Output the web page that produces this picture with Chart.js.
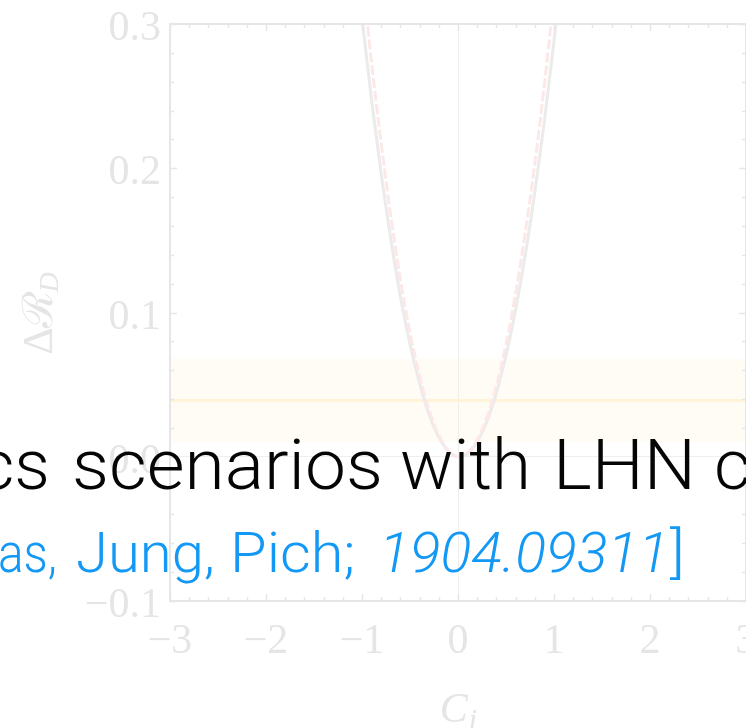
<!DOCTYPE html>
<html>
<head>
<meta charset="utf-8">
<script src="https://cdn.jsdelivr.net/npm/chart.js@4/dist/chart.umd.min.js"></script>
<style>
  html, body { margin: 0; padding: 0; background: #ffffff; }
  #wrap { position: relative; width: 746px; height: 728px; overflow: hidden; }
  #c { position: absolute; left: 0; top: 0; }
  #overlay { position: absolute; left: 0; top: 0; }
  .head { font-family: 'Roboto', 'Liberation Sans', sans-serif; font-weight: 300; fill: #050505; font-size: 71px; }
  .cite { font-family: 'Roboto', 'Liberation Sans', sans-serif; font-weight: 300; fill: #1398f5; font-size: 56px; }
  .cite.it { font-style: italic; }
</style>
</head>
<body>
<div id="wrap">
  <canvas id="c" width="746" height="728"></canvas>
  <svg id="overlay" width="746" height="728" xmlns="http://www.w3.org/2000/svg">
    <text class="head" x="-22" y="489" textLength="72" lengthAdjust="spacingAndGlyphs">cs</text>
    <text class="head" x="72" y="489" textLength="311" lengthAdjust="spacingAndGlyphs">scenarios</text>
    <text class="head" x="400" y="489" textLength="131" lengthAdjust="spacingAndGlyphs">with</text>
    <text class="head" x="553" y="489" textLength="143" lengthAdjust="spacingAndGlyphs">LHN</text>
    <text class="head" x="714" y="489">c</text>
    <text class="cite" x="-2" y="572" textLength="59" lengthAdjust="spacingAndGlyphs">as,</text>
    <text class="cite" x="76" y="572" textLength="139" lengthAdjust="spacingAndGlyphs">Jung,</text>
    <text class="cite" x="230" y="572" textLength="125" lengthAdjust="spacingAndGlyphs">Pich;</text>
    <text class="cite it" x="379" y="572" textLength="290" lengthAdjust="spacingAndGlyphs">1904.09311</text>
    <text class="cite" x="670" y="572" textLength="15" lengthAdjust="spacingAndGlyphs">]</text>
  </svg>
</div>
<script>
// Wilson coefficient C_i on the horizontal axis, shift of R_D on the vertical axis
const xTickValues = [-3, -2, -1, 0, 1, 2, 3];
const xTickLabels = ['\u22123', '\u22122', '\u22121', '0', '1', '2', '3'];
const yTickValues = [-0.1, 0, 0.1, 0.2, 0.3];
const yTickLabels = ['\u22120.1', '0.0', '0.1', '0.2', '0.3'];

// curve of Delta R_D against C_i (two overlaid predictions)
const curveC = [-1.1, -1.0, -0.9, -0.8, -0.7, -0.6, -0.5, -0.4, -0.3, -0.2, -0.1, 0.0,
                0.1, 0.2, 0.3, 0.4, 0.5, 0.6, 0.7, 0.8, 0.9, 1.0, 1.1];
const curveGrey = [0.367, 0.304, 0.247, 0.196, 0.151, 0.111, 0.078, 0.051, 0.029, 0.0135, 0.0038, 0.0001,
                   0.0022, 0.0103, 0.0243, 0.0443, 0.0701, 0.1019, 0.1396, 0.1832, 0.2327, 0.2882, 0.350];
const curvePink = [0.406, 0.337, 0.273, 0.217, 0.167, 0.123, 0.086, 0.056, 0.032, 0.0149, 0.0042, 0.0001,
                   0.0025, 0.0115, 0.0270, 0.0491, 0.0778, 0.113, 0.155, 0.203, 0.258, 0.320, 0.388];

// measured Delta R_D: central value and 1 sigma band
const bandC = [-3, 3];
const bandCentre = [0.039, 0.039];
const bandUpper = [0.068, 0.068];
const bandLower = [0.010, 0.010];

const pts = (xs, ys) => xs.map((v, i) => ({ x: v, y: ys[i] }));

const labelColour = '#e5e5e5';
const frameColour = '#e6e6e6';
const serif = "'Liberation Serif', 'DejaVu Serif', serif";

// box frame with inward major and minor ticks on all four sides
const frameTicks = {
  id: 'frameTicks',
  afterDatasetsDraw(chart) {
    const { ctx, chartArea: a, scales: { x, y } } = chart;
    ctx.save();
    ctx.strokeStyle = frameColour;
    ctx.lineWidth = 1.5;
    for (let k = 0; k <= 30; k++) {
      const px = Math.round(x.getPixelForValue(-3 + k * 0.2)) + 0.5;
      const len = k % 5 === 0 ? 7 : 4;
      ctx.beginPath();
      ctx.moveTo(px, a.bottom); ctx.lineTo(px, a.bottom - len);
      ctx.moveTo(px, a.top); ctx.lineTo(px, a.top + len);
      ctx.stroke();
    }
    for (let k = 0; k <= 20; k++) {
      const py = Math.round(y.getPixelForValue(-0.1 + k * 0.02)) + 0.5;
      const len = k % 5 === 0 ? 7 : 4;
      ctx.beginPath();
      ctx.moveTo(a.left, py); ctx.lineTo(a.left + len, py);
      ctx.moveTo(a.right, py); ctx.lineTo(a.right - len, py);
      ctx.stroke();
    }
    ctx.lineWidth = 2;
    ctx.strokeRect(a.left, a.top, a.right - a.left, a.bottom - a.top);
    ctx.restore();
  }
};

// axis titles with subscripts
const axisTitles = {
  id: 'axisTitles',
  afterDraw(chart) {
    const { ctx, chartArea: a, scales: { x } } = chart;
    ctx.save();
    ctx.fillStyle = labelColour;
    ctx.textBaseline = 'alphabetic';
    // C_i
    const big = 'italic 42px ' + serif, small = 'italic 30px ' + serif;
    ctx.font = big;  const wC = ctx.measureText('C').width;
    ctx.font = small; const wi = ctx.measureText('i').width;
    const cx = x.getPixelForValue(0) - (wC + wi) / 2;
    ctx.font = big;  ctx.fillText('C', cx, 722);
    ctx.font = small; ctx.fillText('i', cx + wC + 1, 729);
    // Delta R_D, rotated
    ctx.translate(52, (a.top + a.bottom) / 2);
    ctx.rotate(-Math.PI / 2);
    const f1 = '42px ' + serif, f2 = 'italic 28px ' + serif;
    ctx.font = f1; const w1 = ctx.measureText('\u0394\u211B').width;
    ctx.font = f2; const w2 = ctx.measureText('D').width;
    const sx = -(w1 + w2) / 2;
    ctx.font = f1; ctx.fillText('\u0394\u211B', sx, 0);
    ctx.font = f2; ctx.fillText('D', sx + w1 - 2, 6);
    ctx.restore();
  }
};

const zeroGrid = ctx => (ctx.tick && ctx.tick.value === 0) ? '#efefef' : 'rgba(0,0,0,0)';

new Chart(document.getElementById('c'), {
  type: 'scatter',
  data: {
    datasets: [
      {
        data: pts(curveC, curvePink), showLine: true, pointRadius: 0,
        borderColor: '#fde8e8', borderWidth: 3, borderDash: [10, 3],
        cubicInterpolationMode: 'monotone', order: 0
      },
      {
        data: pts(curveC, curveGrey), showLine: true, pointRadius: 0,
        borderColor: '#ebebeb', borderWidth: 3,
        cubicInterpolationMode: 'monotone', order: 1
      },
      {
        data: pts(bandC, bandCentre), showLine: true, pointRadius: 0,
        borderColor: '#fff3d8', borderWidth: 3, order: 2
      },
      {
        data: pts(bandC, bandUpper), showLine: true, pointRadius: 0,
        borderWidth: 0, borderColor: 'rgba(0,0,0,0)',
        backgroundColor: 'rgba(255, 236, 190, 0.14)', fill: '+1', order: 3
      },
      {
        data: pts(bandC, bandLower), showLine: true, pointRadius: 0,
        borderWidth: 0, borderColor: 'rgba(0,0,0,0)', order: 4
      }
    ]
  },
  options: {
    responsive: false,
    devicePixelRatio: 1,
    animation: false,
    events: [],
    layout: { padding: { top: 24, right: 0, left: 0, bottom: 0 } },
    plugins: { legend: { display: false }, tooltip: { enabled: false } },
    scales: {
      x: {
        type: 'linear', min: -3, max: 3,
        afterBuildTicks: s => { s.ticks = xTickValues.map(v => ({ value: v })); },
        afterFit: s => { s.height = 127; s.paddingLeft = 0; s.paddingRight = 0; },
        ticks: {
          callback: (v, i) => xTickLabels[i],
          font: { family: serif, size: 42 }, color: labelColour, padding: 16,
          maxRotation: 0, autoSkip: false
        },
        grid: { color: zeroGrid, lineWidth: 1, drawTicks: false },
        border: { display: false }
      },
      y: {
        type: 'linear', min: -0.1, max: 0.3,
        afterBuildTicks: s => { s.ticks = yTickValues.map(v => ({ value: v })); },
        afterFit: s => { s.width = 170; s.paddingTop = 0; s.paddingBottom = 0; },
        ticks: {
          callback: (v, i) => yTickLabels[i],
          font: { family: serif, size: 42 }, color: labelColour, padding: 9,
          labelOffset: 5, autoSkip: false
        },
        grid: { color: zeroGrid, lineWidth: 1, drawTicks: false },
        border: { display: false }
      }
    }
  },
  plugins: [frameTicks, axisTitles]
});
</script>
</body>
</html>
